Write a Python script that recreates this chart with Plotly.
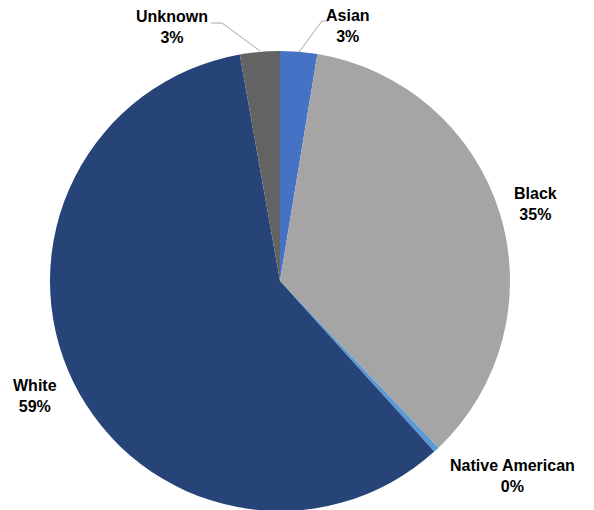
import plotly.graph_objects as go

# Data
categories = ["Asian", "Black", "Native American", "White", "Unknown"]
values = [2.6, 35.3, 0.4, 58.9, 2.8]
colors = ["#4472C4", "#A5A5A5", "#5B9BD5", "#264478", "#636363"]

# Label placement (screen pixel centres) and leader line paths (screen pixels)
label_pos = [(348, 26), (535, 204), (512, 476), (35, 396), (172, 27)]
leaders = [
    [(328, 21), (322, 21), (299, 52)],
    None,
    None,
    None,
    [(211, 23), (222, 23), (260, 51)],
]

W, H = 594, 510
OFF = 8  # page body offset
L, T, PW, PH = 42, 43, 460, 460
R = W - L - PW
B = H - T - PH


def px2paper(sx, sy):
    return (sx - OFF - L) / PW, 1 - (sy - OFF - T) / PH


total = sum(values)

fig = go.Figure()
fig.add_trace(go.Pie(
    labels=categories,
    values=values,
    marker=dict(colors=colors, line=dict(width=0)),
    sort=False,
    direction="clockwise",
    rotation=0,
    textinfo="none",
    hoverinfo="label+percent",
    showlegend=False,
    domain=dict(x=[0, 1], y=[0, 1]),
))

annotations = []
shapes = []
for cat, v, (sx, sy), path in zip(categories, values, label_pos, leaders):
    pct = round(v / total * 100)
    x, y = px2paper(sx, sy)
    annotations.append(dict(
        text=f"<b>{cat}</b><br><b>{pct}%</b>", xref="paper", yref="paper",
        x=x, y=y, xanchor="center", yanchor="middle",
        showarrow=False, align="center",
        font=dict(family="Liberation Sans, Arial, sans-serif", size=16, color="#000000"),
    ))
    if path:
        for (x0, y0), (x1, y1) in zip(path[:-1], path[1:]):
            a0 = px2paper(x0, y0)
            a1 = px2paper(x1, y1)
            shapes.append(dict(
                type="line", xref="paper", yref="paper",
                x0=a0[0], y0=a0[1], x1=a1[0], y1=a1[1],
                line=dict(color="#A6A6A6", width=1),
            ))

fig.update_layout(
    width=W, height=H,
    margin=dict(l=L, r=R, t=T, b=B),
    paper_bgcolor="white",
    plot_bgcolor="white",
    annotations=annotations,
    shapes=shapes,
)

fig.write_html("out.html")
